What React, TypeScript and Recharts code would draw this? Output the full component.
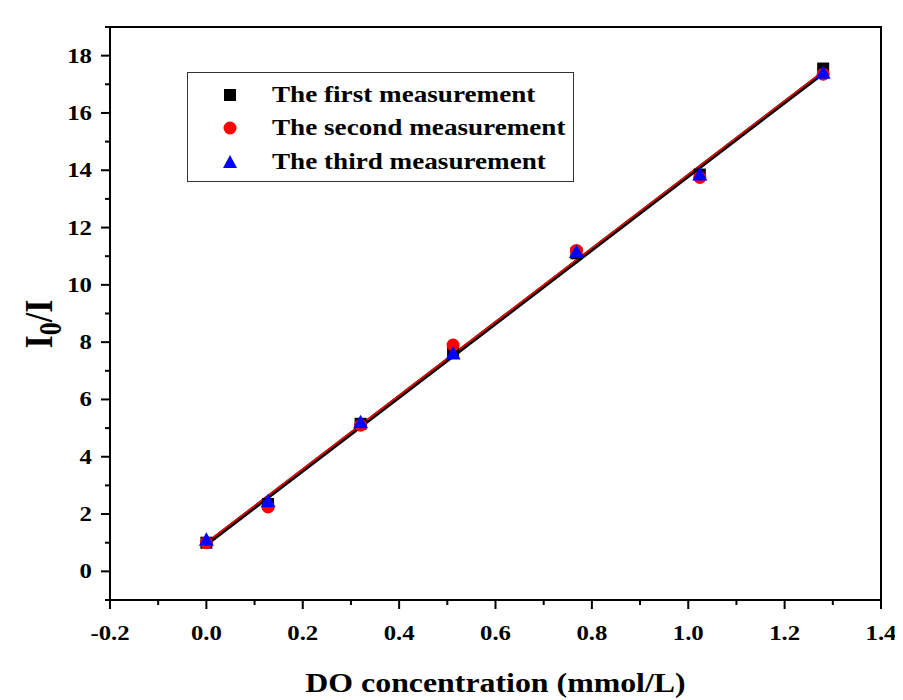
import React from "react";
import {
  ComposedChart,
  Scatter,
  Line,
  XAxis,
  YAxis,
  ReferenceArea,
} from "recharts";

const concentrations = [0, 0.128, 0.32, 0.512, 0.768, 1.024, 1.28];
const firstValues = [1.0, 2.35, 5.15, 7.65, 11.1, 13.85, 17.55];
const secondValues = [1.0, 2.25, 5.1, 7.9, 11.2, 13.75, 17.35];
const thirdValues = [1.1, 2.45, 5.2, 7.6, 11.15, 13.85, 17.4];

const fitX = [0, 1.28];
const fitBlack = [0.95, 17.4];
const fitRed = [1.0, 17.45];
const fitBlue = [0.97, 17.42];

const xMajorTicks = [-0.2, 0, 0.2, 0.4, 0.6, 0.8, 1.0, 1.2, 1.4];
const xMinorTicks = [-0.1, 0.1, 0.3, 0.5, 0.7, 0.9, 1.1, 1.3];
const yMajorTicks = [0, 2, 4, 6, 8, 10, 12, 14, 16, 18];
const yMinorTicks = [-1, 1, 3, 5, 7, 9, 11, 13, 15, 17, 19];

const seriesNames = [
  "The first measurement",
  "The second measurement",
  "The third measurement",
];
const xTitle = "DO concentration (mmol/L)";

const FONT = "'Liberation Serif', 'Times New Roman', serif";
const SX = 1.18;

const toPoints = (xs: number[], ys: number[]) =>
  xs.map((x, i) => ({ x, y: ys[i] }));

const firstData = toPoints(concentrations, firstValues);
const secondData = toPoints(concentrations, secondValues);
const thirdData = toPoints(concentrations, thirdValues);
const blackFit = toPoints(fitX, fitBlack);
const redFit = toPoints(fitX, fitRed);
const blueFit = toPoints(fitX, fitBlue);

const isMajor = (v: number, majors: number[]) =>
  majors.some((m) => Math.abs(m - v) < 1e-6);

const XTick = (props: any) => {
  const { x, y, payload } = props;
  const major = isMajor(payload.value, xMajorTicks);
  return (
    <g>
      <line x1={x} x2={x} y1={y} y2={y + (major ? 9 : 5)} stroke="#000" strokeWidth={2} />
      {major && (
        <g transform={`translate(${x}, ${y + 40}) scale(${SX}, 1)`}>
          <text
            x={0}
            y={0}
            textAnchor="middle"
            fontFamily={FONT}
            fontWeight="bold"
            fontSize={21}
            fill="#000"
          >
            {payload.value.toFixed(1)}
          </text>
        </g>
      )}
    </g>
  );
};

const YTick = (props: any) => {
  const { x, y, payload } = props;
  const major = isMajor(payload.value, yMajorTicks);
  return (
    <g>
      <line x1={x} x2={x - (major ? 9 : 5)} y1={y} y2={y} stroke="#000" strokeWidth={2} />
      {major && (
        <g transform={`translate(${x - 18}, ${y + 7}) scale(${SX}, 1)`}>
          <text
            x={0}
            y={0}
            textAnchor="end"
            fontFamily={FONT}
            fontWeight="bold"
            fontSize={21}
            fill="#000"
          >
            {payload.value}
          </text>
        </g>
      )}
    </g>
  );
};

const SquareShape = (props: any) => {
  const { cx, cy } = props;
  return <rect x={cx - 6} y={cy - 6} width={12} height={12} fill="#000" />;
};
const CircleShape = (props: any) => {
  const { cx, cy } = props;
  return <circle cx={cx} cy={cy} r={6.5} fill="#ff0000" />;
};
const TriangleShape = (props: any) => {
  const { cx, cy } = props;
  return (
    <polygon
      points={`${cx},${cy - 7.5} ${cx + 7.5},${cy + 6} ${cx - 7.5},${cy + 6}`}
      fill="#0000ff"
    />
  );
};

const LegendBox = () => {
  const row = (marker: React.ReactNode, label: string) => (
    <div style={{ display: "flex", alignItems: "center", height: 33.5 }}>
      <div style={{ width: 84, display: "flex", justifyContent: "center" }}>
        <svg width={16} height={16}>{marker}</svg>
      </div>
      <span
        style={{
          fontFamily: FONT,
          fontWeight: "bold",
          fontSize: 23,
          color: "#000",
          whiteSpace: "nowrap",
          display: "inline-block",
          transform: `scaleX(${SX})`,
          transformOrigin: "left center",
        }}
      >
        {label}
      </span>
    </div>
  );
  return (
    <div
      style={{
        position: "absolute",
        left: 179,
        top: 64,
        width: 387,
        height: 110,
        border: "1px solid #333",
        background: "#fff",
        boxSizing: "border-box",
        paddingTop: 5,
      }}
    >
      {row(<rect x={2} y={2} width={12} height={12} fill="#000" />, seriesNames[0])}
      {row(<circle cx={8} cy={8} r={6.5} fill="#ff0000" />, seriesNames[1])}
      {row(<polygon points="8,1 15,14 1,14" fill="#0000ff" />, seriesNames[2])}
    </div>
  );
};

const YLabel = () => (
  <g transform={`translate(44, 316) scale(${SX}, 1) rotate(-90)`}>
    <text
      x={0}
      y={0}
      textAnchor="middle"
      fontFamily={FONT}
      fontWeight="bold"
      fontSize={34}
      fill="#000"
    >
      I
      <tspan fontSize={26} dy={8}>0</tspan>
      <tspan dy={-8}>/I</tspan>
    </text>
  </g>
);

const XLabel = () => (
  <g transform={`translate(487.5, 684) scale(${SX}, 1)`}>
    <text
      x={0}
      y={0}
      textAnchor="middle"
      fontFamily={FONT}
      fontWeight="bold"
      fontSize={27}
      fill="#000"
    >
      {xTitle}
    </text>
  </g>
);

export default function App() {
  return (
    <div style={{ position: "relative", width: 895, height: 692 }}>
      <ComposedChart
        width={895}
        height={692}
        margin={{ top: 19, right: 22, bottom: 0, left: 0 }}
      >
        <XAxis
          dataKey="x"
          type="number"
          domain={[-0.2, 1.4]}
          ticks={[...xMajorTicks, ...xMinorTicks].sort((a, b) => a - b)}
          tick={<XTick />}
          tickLine={false}
          tickSize={0}
          tickMargin={0}
          axisLine={{ stroke: "#000", strokeWidth: 2 }}
          height={100}
          interval={0}
          allowDataOverflow
          label={{ content: () => <XLabel /> }}
        />
        <YAxis
          dataKey="y"
          type="number"
          domain={[-1, 19]}
          ticks={[...yMajorTicks, ...yMinorTicks].sort((a, b) => a - b)}
          tick={<YTick />}
          tickLine={false}
          tickSize={0}
          tickMargin={0}
          axisLine={{ stroke: "#000", strokeWidth: 2 }}
          width={102}
          interval={0}
          allowDataOverflow
          label={{ content: () => <YLabel /> }}
        />
        <ReferenceArea
          x1={-0.2}
          x2={1.4}
          y1={-1}
          y2={19}
          fill="none"
          stroke="#000"
          strokeWidth={2}
          ifOverflow="visible"
        />
        <Scatter
          name={seriesNames[0]}
          data={firstData}
          shape={<SquareShape />}
          isAnimationActive={false}
        />
        <Scatter
          name={seriesNames[1]}
          data={secondData}
          shape={<CircleShape />}
          isAnimationActive={false}
        />
        <Scatter
          name={seriesNames[2]}
          data={thirdData}
          shape={<TriangleShape />}
          isAnimationActive={false}
        />
        <Line
          data={blueFit}
          dataKey="y"
          stroke="#0000ff"
          strokeWidth={2}
          dot={false}
          activeDot={false}
          legendType="none"
          isAnimationActive={false}
        />
        <Line
          data={blackFit}
          dataKey="y"
          stroke="#000"
          strokeWidth={4}
          dot={false}
          activeDot={false}
          legendType="none"
          isAnimationActive={false}
        />
        <Line
          data={redFit}
          dataKey="y"
          stroke="#ff0000"
          strokeWidth={1.5}
          dot={false}
          activeDot={false}
          legendType="none"
          isAnimationActive={false}
        />
      </ComposedChart>
      <LegendBox />
    </div>
  );
}
